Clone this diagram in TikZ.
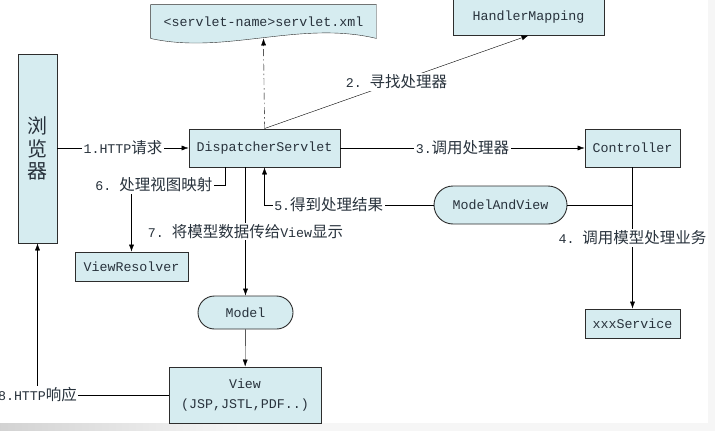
\documentclass[tikz,border=0pt]{standalone}
\usepackage{fontspec}
\setmainfont{Liberation Mono}
\newfontfamily\cjk{Noto Sans CJK SC}
\usetikzlibrary{positioning,calc,arrows.meta,backgrounds}
\definecolor{mvcfill}{RGB}{214,236,240}
\definecolor{mvcline}{RGB}{45,45,45}
\definecolor{mvctext}{RGB}{40,50,60}
\newcommand{\zh}[1]{{\cjk\fontsize{15.5}{18}\selectfont #1}}

\begin{document}
\begin{tikzpicture}[x=1pt, y=-1pt, line width=0.9pt, >={Latex[length=7pt,width=5pt]},
    mvc box/.style={draw=mvcline, fill=mvcfill, rectangle, inner sep=0pt, text=mvctext, align=center, font=\fontsize{13.3}{20}\selectfont},
    mvc round/.style={mvc box, rounded corners=#1},
    mvc label/.style={fill=white, inner sep=1.5pt, text=mvctext, font=\fontsize{13.3}{16}\selectfont},
    dash dot line/.style={dash pattern=on 7pt off 3pt on 1.5pt off 3pt}]
    \useasboundingbox (0,0) rectangle (715,431);

    \node[mvc box, minimum width=39pt, minimum height=189pt, font=\cjk\fontsize{20}{22.5}\selectfont] (br) at (37.5,148.5) {浏\\览\\器};
    \node[inner sep=0pt, minimum width=225pt, minimum height=33pt, text=mvctext, font=\fontsize{13.3}{16}\selectfont] (xml) at (263.5,21.5) {<servlet-name>servlet.xml};
    \node[mvc box, minimum width=151pt, minimum height=36pt] (hm) at (528.5,17) {HandlerMapping};
    \node[mvc box, minimum width=151pt, minimum height=38pt] (ds) at (264.5,148) {DispatcherServlet};
    \node[mvc box, minimum width=95pt, minimum height=38pt] (ctrl) at (632.5,148) {Controller};
    \node[mvc round=19pt, minimum width=133pt, minimum height=38pt] (mav) at (500.5,205) {ModelAndView};
    \node[mvc box, minimum width=113pt, minimum height=29pt] (vr) at (131.5,266.5) {ViewResolver};
    \node[mvc round=16.5pt, minimum width=95pt, minimum height=33pt] (model) at (245.5,312.5) {Model};
    \node[mvc box, minimum width=152pt, minimum height=56pt] (view) at (245,395) {View\\(JSP,JSTL,PDF..)};
    \node[mvc box, minimum width=95pt, minimum height=29pt] (svc) at (632.5,323.5) {xxxService};

    \begin{pgfonlayer}{background}
        \fill[gray!7] (708,0) rectangle (715,431);
        \shade[left color=gray!35, right color=gray!7] (0,423) rectangle (240,431);
        \fill[gray!7] (240,423) rectangle (715,431);
        \draw[draw=mvcline, fill=mvcfill] (xml.north west) -- (xml.north east) -- (xml.south east)
            .. controls (300,20) and (225,55) .. (xml.south west) -- cycle;
    \end{pgfonlayer}

    \draw[->] (br.east |- ds.west) -- node[mvc label] {1.HTTP\zh{请求}} (ds.west);
    \draw[->] (ds.north) -- node[mvc label] {2.\ \zh{寻找处理器}} (hm.south);
    \draw[->, dash dot line] (ds.north) -- (xml.south);
    \draw[->] (ds) -- node[mvc label] {3.\zh{调用处理器}} (ctrl);
    \draw[->] (ctrl) -- node[mvc label] {4.\ \zh{调用模型处理业务}} (svc);
    \draw (mav.east) -- (mav.east -| ctrl.south);
    \draw[->] (mav.west) -| node[mvc label, pos=0.31] {5.\zh{得到处理结果}} (ds.south);
    \draw[->] ([xshift=-39.5pt]ds.south) |- node[mvc label, pos=0.88] {6.\ \zh{处理视图映射}} (vr.north |- 0,185) -- (vr.north);
    \draw[->] (model.north |- ds.south) -- node[mvc label] {7.\ \zh{将模型数据传给}View\zh{显示}} (model.north);
    \draw[->] (model) -- (view);
    \draw[->] (view.west) -| node[mvc label, pos=0.5] {8.HTTP\zh{响应}} (br.south);
\end{tikzpicture}
\end{document}
